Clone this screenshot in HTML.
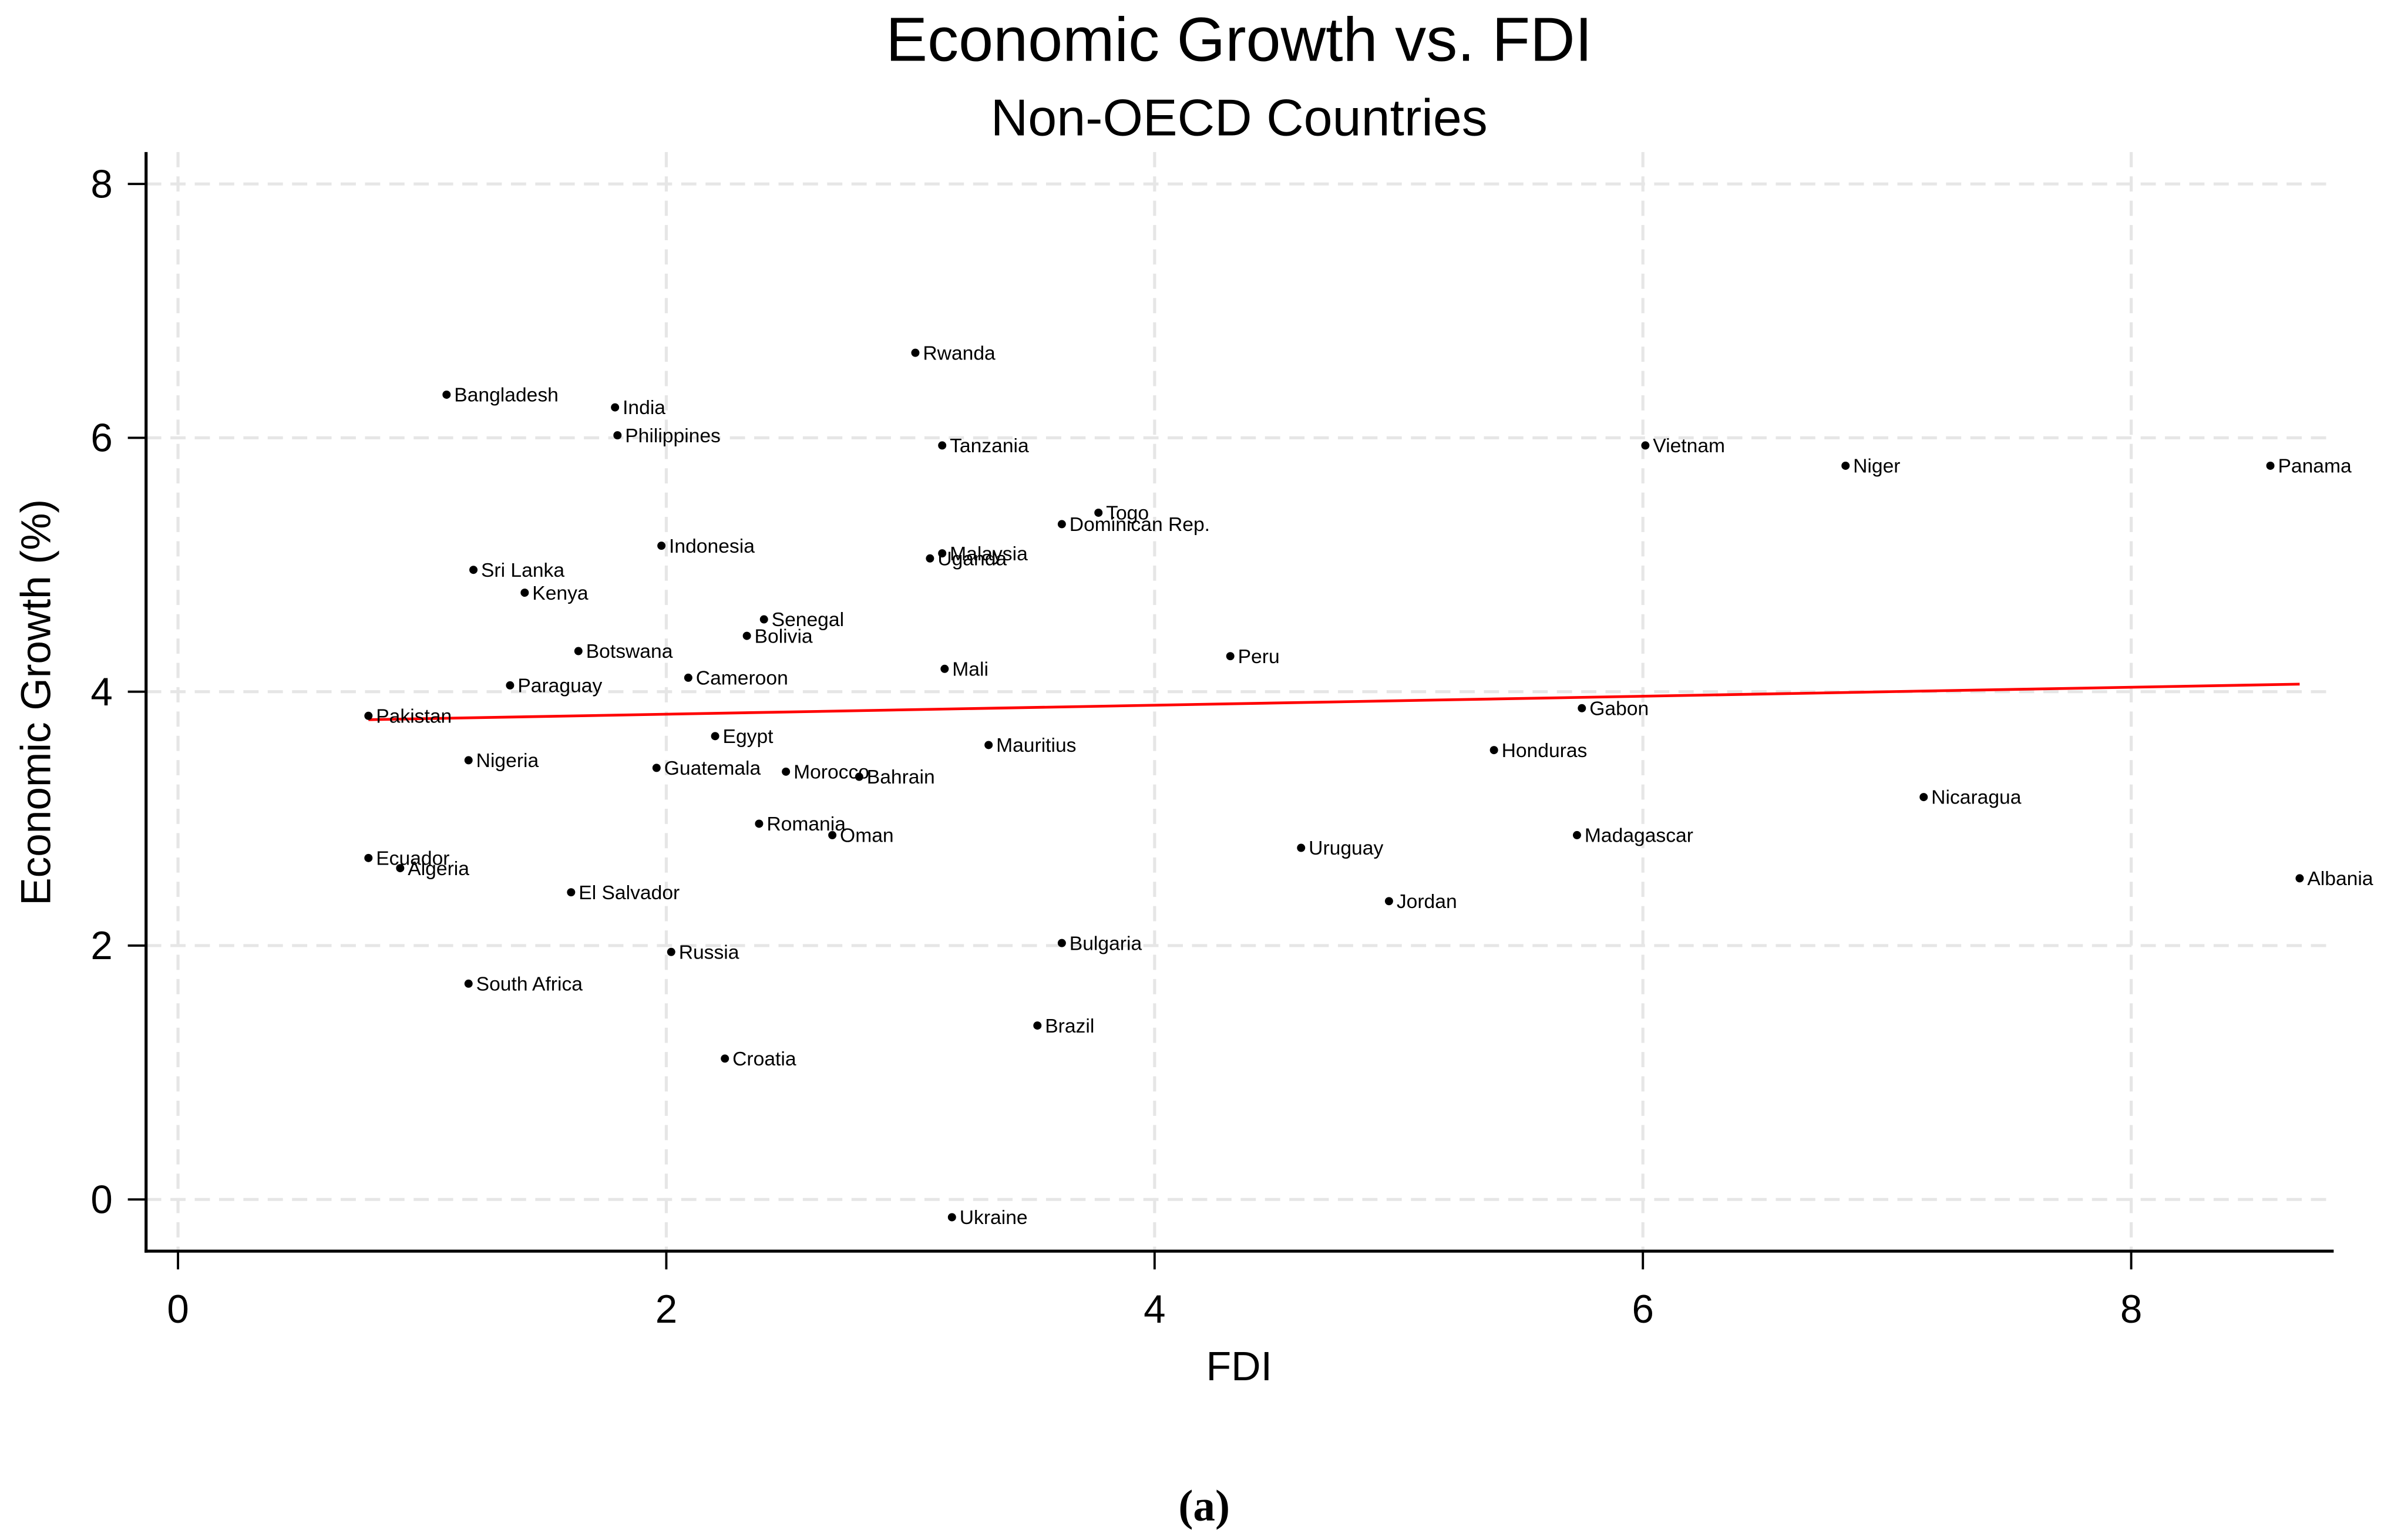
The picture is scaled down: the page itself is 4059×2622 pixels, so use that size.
<!DOCTYPE html>
<html><head><meta charset="utf-8"><style>
html,body{margin:0;padding:0;background:#fff;}
svg{display:block;}
</style></head><body>
<svg id="chart" width="4059" height="2622" viewBox="0 0 1568 1013" xmlns="http://www.w3.org/2000/svg" font-family="Liberation Sans, sans-serif">
<text x="815" y="40" font-size="41" text-anchor="middle">Economic Growth vs. FDI</text>
<text x="815" y="89" font-size="34" text-anchor="middle">Non-OECD Countries</text>
<g id="grid"></g>
<g id="axes"></g>
<g id="fit"></g>
<g id="points"></g>
<text x="815" y="908" font-size="27" text-anchor="middle">FDI</text>
<text transform="translate(33,462) rotate(-90)" font-size="27.5" text-anchor="middle">Economic Growth (%)</text>
<text x="792" y="1000" font-size="29" font-family="Liberation Serif, serif" font-weight="bold" text-anchor="middle">(a)</text>
</svg>
<script>
const countries=["Bangladesh","India","Philippines","Rwanda","Tanzania","Vietnam","Niger","Panama","Togo","Dominican Rep.","Indonesia","Malaysia","Uganda","Sri Lanka","Kenya","Senegal","Bolivia","Botswana","Peru","Mali","Cameroon","Paraguay","Pakistan","Gabon","Egypt","Mauritius","Honduras","Nigeria","Guatemala","Morocco","Bahrain","Nicaragua","Romania","Oman","Madagascar","Uruguay","Ecuador","Algeria","Albania","El Salvador","Jordan","Bulgaria","Russia","South Africa","Brazil","Croatia","Ukraine"];
const fdi=[1.10,1.79,1.80,3.02,3.13,6.01,6.83,8.57,3.77,3.62,1.98,3.13,3.08,1.21,1.42,2.40,2.33,1.64,4.31,3.14,2.09,1.36,0.78,5.75,2.20,3.32,5.39,1.19,1.96,2.49,2.79,7.15,2.38,2.68,5.73,4.60,0.78,0.91,8.69,1.61,4.96,3.62,2.02,1.19,3.52,2.24,3.17];
const growth=[6.34,6.24,6.02,6.67,5.94,5.94,5.78,5.78,5.41,5.32,5.15,5.09,5.05,4.96,4.78,4.57,4.44,4.32,4.28,4.18,4.11,4.05,3.81,3.87,3.65,3.58,3.54,3.46,3.40,3.37,3.33,3.17,2.96,2.87,2.87,2.77,2.69,2.61,2.53,2.42,2.35,2.02,1.95,1.70,1.37,1.11,-0.14];
const xTicks=[0,2,4,6,8];
const yTicks=[0,2,4,6,8];
const fitX=[0.78,8.69];
const fitCoef=[3.752,0.0354];
const NS="http://www.w3.org/2000/svg";
const sx=v=>117+v*160.6;
const sy=v=>789-v*83.5;
function mk(tag,attrs,parent){const e=document.createElementNS(NS,tag);for(const k in attrs)e.setAttribute(k,attrs[k]);parent.appendChild(e);return e;}
const grid=document.getElementById('grid'),axes=document.getElementById('axes'),fit=document.getElementById('fit'),pts=document.getElementById('points');
yTicks.forEach(t=>{
 const g=mk('line',{x1:96,x2:1535,y1:sy(t),y2:sy(t),stroke:'#e6e6e6','stroke-width':2,'stroke-dasharray':'10 6'},grid);
 
 
 const tk=mk('line',{x1:84,x2:96,y1:sy(t),y2:sy(t),stroke:'#000','stroke-width':1.5},axes);
 
 
 const tl=mk('text',{x:74,y:sy(t)+9,'font-size':26,'text-anchor':'end'},axes);tl.textContent=t;
 
 
});
xTicks.forEach(t=>{
 const g=mk('line',{x1:sx(t),x2:sx(t),y1:100,y2:823,stroke:'#e6e6e6','stroke-width':2,'stroke-dasharray':'10 6'},grid);
 
 
 const tk=mk('line',{x1:sx(t),x2:sx(t),y1:823,y2:835,stroke:'#000','stroke-width':1.5},axes);
 
 
 const tl=mk('text',{x:sx(t),y:870,'font-size':26,'text-anchor':'middle'},axes);tl.textContent=t;
 
 
});
const ya=mk('line',{x1:96,x2:96,y1:100,y2:824,stroke:'#000','stroke-width':2},axes);


const xa=mk('line',{x1:95,x2:1535,y1:823,y2:823,stroke:'#000','stroke-width':2},axes);


const fl=mk('line',{x1:sx(fitX[0]),y1:sy(fitCoef[0]+fitCoef[1]*fitX[0]),x2:sx(fitX[1]),y2:sy(fitCoef[0]+fitCoef[1]*fitX[1]),stroke:'#ff0000','stroke-width':1.8},fit);


countries.forEach((c,i)=>{
 const x=sx(fdi[i]),y=sy(growth[i]);
 const d=mk('circle',{cx:x,cy:y,r:2.7,fill:'#000'},pts);
 
 
 const l=mk('text',{x:x+5,y:y+4.5,'font-size':13,'font-family':'Liberation Sans Narrow, Liberation Sans, sans-serif'},pts);
 l.textContent=c;
 
 
});
</script>
</body></html>
